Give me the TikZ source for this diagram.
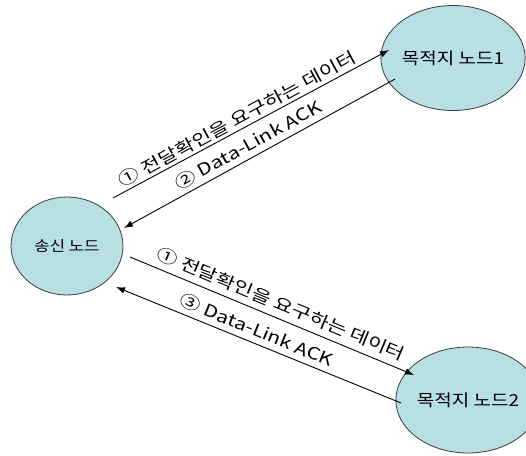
\documentclass[tikz,border=0pt]{standalone}
\usepackage{fontspec}
\setmainfont{Noto Sans CJK KR}
\newfontfamily\krlab[FakeStretch=1.25]{Noto Sans CJK KR}
\newfontfamily\krnode[FakeStretch=1.15]{Noto Sans CJK KR}
\usetikzlibrary{shapes.geometric,arrows.meta}
\definecolor{nodefill}{RGB}{184,223,228}
\definecolor{nodeline}{RGB}{60,60,60}
\begin{document}
\begin{tikzpicture}[x=1pt,y=-1pt,
  ell/.style={ellipse, draw=nodeline, line width=0.8pt, fill=nodefill, inner sep=0pt,
    font=\krnode\fontsize{14.5pt}{16pt}\selectfont},
  dest/.style={ell, font=\krnode\fontsize{16.5pt}{18pt}\selectfont},
  conn/.style={line width=0.9pt, -{Latex[length=9pt,width=6.5pt]}},
  lab/.style={inner sep=0pt, font=\krlab\fontsize{16.8pt}{18pt}\selectfont}]
\useasboundingbox (0,0) rectangle (526,455);
\node[ell, minimum width=112pt, minimum height=98pt] (s) at (67,246) {송신 노드};
\node[dest, minimum width=117pt, minimum height=105pt] (d1) at (453,58) {목적지 노드1};
\node[dest, minimum width=111pt, minimum height=106pt] (d2) at (468,400) {목적지 노드2};
% connector ends
\coordinate (t1s) at (113,198);
\coordinate (t1e) at (389,50);
\coordinate (t2s) at (395,79);
\coordinate (t2e) at (124,228);
\coordinate (b1s) at (130,257);
\coordinate (b1e) at (414,375);
\coordinate (b3s) at (401,403);
\coordinate (b3e) at (116,287);
\draw[conn] (t1s) -- (t1e);
\draw[conn] (t2s) -- (t2e);
\draw[conn] (b1s) -- (b1e);
\draw[conn] (b3s) -- (b3e);
% labels
\node[lab, rotate=28.3] (l1) at (237,119) {① 전달확인을 요구하는 데이터};
\node[lab, rotate=28.9] (l2) at (248,145) {② Data-Link ACK};
\node[lab, rotate=-22.6] (l3) at (281,304) {① 전달확인을 요구하는 데이터};
\node[lab, rotate=-22.3] (l4) at (257,330) {③ Data-Link ACK};
\end{tikzpicture}
\end{document}
